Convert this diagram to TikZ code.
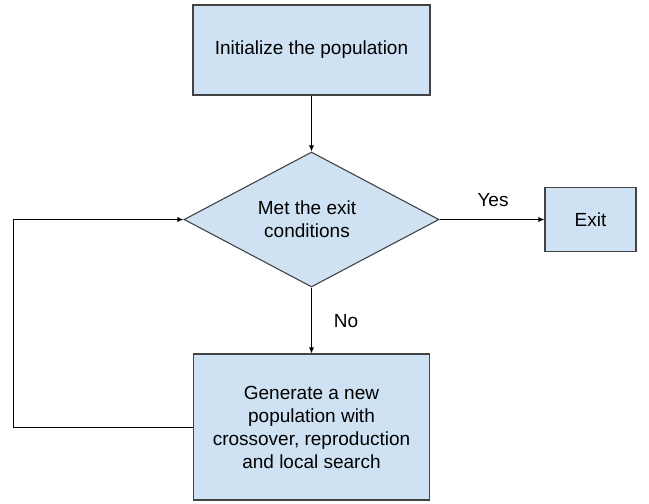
\documentclass[tikz,border=0pt]{standalone}
\usepackage{fontspec}
\setmainfont{Liberation Sans}
\usetikzlibrary{shapes.geometric,arrows.meta}
\definecolor{boxfill}{HTML}{CFE2F3}
\definecolor{boxline}{HTML}{434343}
\begin{document}
\begin{tikzpicture}[x=1pt,y=-1pt,
  every node/.style={font=\fontsize{19}{23}\selectfont},
  procbox/.style={draw=boxline,line width=1.1pt,fill=boxfill,align=center,inner sep=0pt},
  decision/.style={diamond,draw=boxline,line width=1.1pt,fill=boxfill,align=center,inner sep=0pt},
  conn/.style={line width=0.8pt,-{Latex[length=6pt,width=5pt]}},
  lab/.style={inner sep=0pt}]
\useasboundingbox (0,0) rectangle (649,504);
\node[procbox,minimum width=237pt,minimum height=90pt] (init) at (311.5,50) {Initialize the population};
\node[decision,minimum width=255pt,minimum height=135pt] (dec) at (311.5,219.5) {};
\node[lab,align=center] (dectext) at (307,219) {Met the exit\\conditions};
\node[procbox,minimum width=91pt,minimum height=64pt] (exit) at (590.5,219.5) {Exit};
\node[procbox,minimum width=236pt,minimum height=146pt] (gen) at (311.5,427) {Generate a new\\population with\\crossover, reproduction\\and local search};
\node[lab] (yes) at (493,200) {Yes};
\node[lab] (no) at (346,321) {No};
\coordinate (lb) at (13,427);
\coordinate (lt) at (13,219.5);
\draw[conn] (init.south) -- (dec.north);
\draw[conn] (dec.east) -- (exit.west);
\draw[conn] (dec.south) -- (gen.north);
\draw[conn] (gen.west) -- (lb) -- (lt) -- (dec.west);
\end{tikzpicture}
\end{document}
